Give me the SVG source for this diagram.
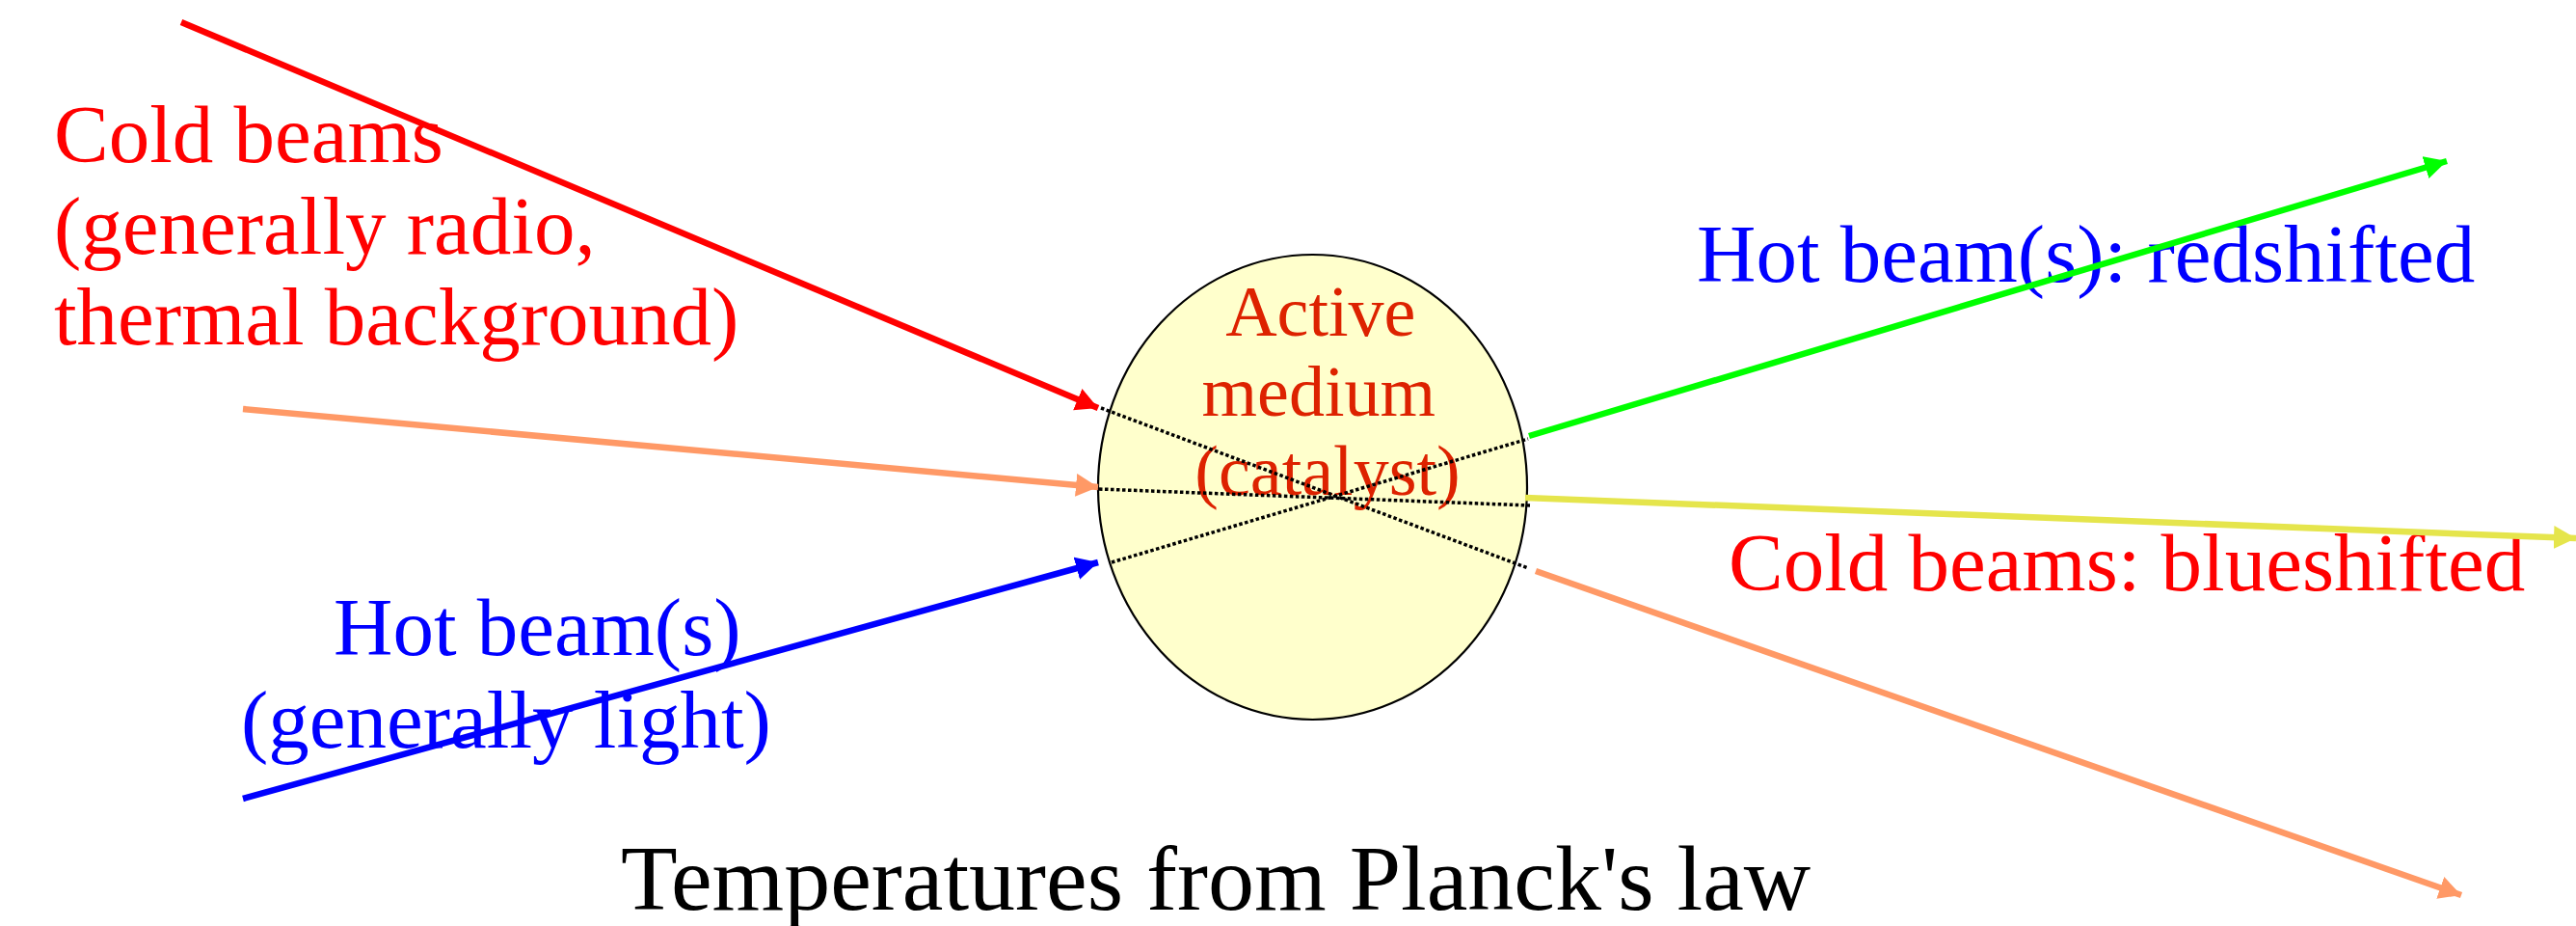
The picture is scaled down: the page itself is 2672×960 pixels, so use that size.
<svg xmlns="http://www.w3.org/2000/svg" width="2672" height="960" viewBox="0 0 2672 960">
  <style>
    .lbl { font-family: "Liberation Serif", "Times New Roman", serif; font-size: 85px; }
    .red { fill: #FF0000; }
    .blue { fill: #0000FF; }
    .beam { stroke-width: 6.5; fill: none; stroke-linecap: butt; }
    .path { stroke: #000000; stroke-width: 3.5; stroke-dasharray: 3.5 2.5; fill: none; }
  </style>
  <defs>
    <marker id="ah-red" markerUnits="userSpaceOnUse" markerWidth="26" markerHeight="26" refX="23" refY="12" orient="auto">
      <path d="M0,0 L23,12 L0,24 z" fill="#FF0000"/>
    </marker>
    <marker id="ah-orange" markerUnits="userSpaceOnUse" markerWidth="26" markerHeight="26" refX="23" refY="12" orient="auto">
      <path d="M0,0 L23,12 L0,24 z" fill="#FF9966"/>
    </marker>
    <marker id="ah-blue" markerUnits="userSpaceOnUse" markerWidth="26" markerHeight="26" refX="23" refY="12" orient="auto">
      <path d="M0,0 L23,12 L0,24 z" fill="#0000FF"/>
    </marker>
    <marker id="ah-green" markerUnits="userSpaceOnUse" markerWidth="26" markerHeight="26" refX="23" refY="12" orient="auto">
      <path d="M0,0 L23,12 L0,24 z" fill="#00FF00"/>
    </marker>
    <marker id="ah-yellow" markerUnits="userSpaceOnUse" markerWidth="26" markerHeight="26" refX="23" refY="12" orient="auto">
      <path d="M0,0 L23,12 L0,24 z" fill="#E5E54C"/>
    </marker>
  </defs>

  <rect x="0" y="0" width="2672" height="960" fill="#FFFFFF"/>

  <!-- active medium -->
  <g id="medium">
    <ellipse cx="1361.5" cy="505" rx="222.5" ry="241" fill="#FFFFCC" stroke="#000000" stroke-width="2.2"/>
    <text font-family="Liberation Serif, Times New Roman, serif" font-size="74" fill="#DD2200" text-anchor="middle">
      <tspan x="1379" y="348">Active</tspan>
      <tspan x="1377" y="431">medium</tspan>
      <tspan x="1377" y="513">(catalyst)</tspan>
    </text>
  </g>

  <!-- incoming labels -->
  <g id="cold-in">
    <text class="lbl red">
      <tspan x="56" y="168">Cold beams</tspan>
      <tspan x="56" y="263">(generally radio,</tspan>
      <tspan x="56" y="357">thermal background)</tspan>
    </text>
  </g>
  <g id="hot-in">
    <text class="lbl blue">
      <tspan x="346" y="679">Hot beam(s)</tspan>
      <tspan x="250" y="775">(generally light)</tspan>
    </text>
  </g>

  <!-- outgoing labels -->
  <g id="hot-out">
    <text class="lbl blue" x="1760" y="292">Hot beam(s): redshifted</text>
  </g>
  <g id="cold-out">
    <text class="lbl red" x="1793" y="612">Cold beams: blueshifted</text>
  </g>

  <g id="caption">
    <text font-family="Liberation Serif, Times New Roman, serif" font-size="96" fill="#000000" x="644" y="943">Temperatures from Planck's law</text>
  </g>

  <!-- beams -->
  <g id="connectors">
    <!-- paths through the medium -->
    <line class="path" x1="1142" y1="423" x2="1585" y2="589"/>
    <line class="path" x1="1140" y1="507" x2="1587" y2="524"/>
    <line class="path" x1="1153" y1="583" x2="1585" y2="455"/>

    <!-- incoming -->
    <line class="beam" stroke="#FF0000" x1="188" y1="23" x2="1139" y2="423" marker-end="url(#ah-red)"/>
    <line class="beam" stroke="#FF9966" x1="252" y1="424" x2="1139" y2="505" marker-end="url(#ah-orange)"/>
    <line class="beam" stroke="#0000FF" x1="252" y1="828" x2="1139" y2="583" marker-end="url(#ah-blue)"/>

    <!-- outgoing -->
    <line class="beam" stroke="#00FF00" x1="1586" y1="452" x2="2538" y2="167" marker-end="url(#ah-green)"/>
    <line class="beam" stroke="#E5E54C" x1="1582" y1="516" x2="2672" y2="558" marker-end="url(#ah-yellow)"/>
    <line class="beam" stroke="#FF9966" x1="1593" y1="592" x2="2553" y2="928" marker-end="url(#ah-orange)"/>
  </g>
</svg>
